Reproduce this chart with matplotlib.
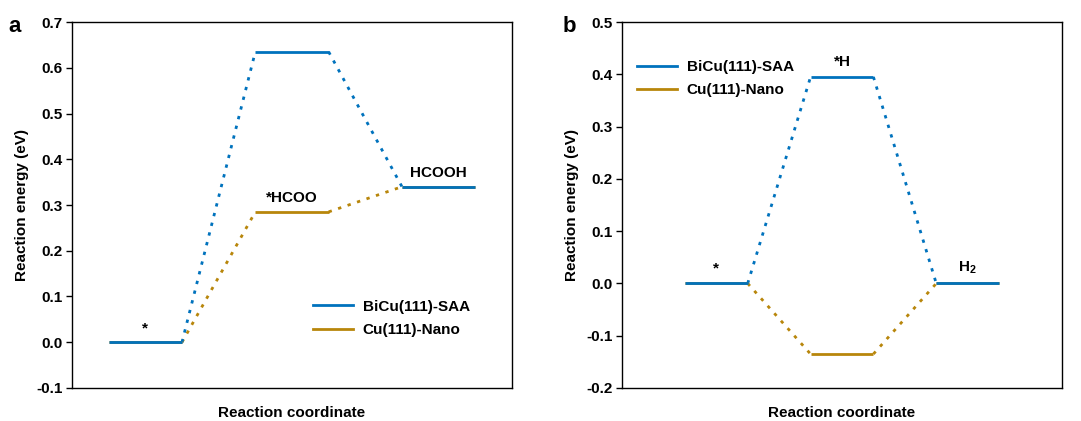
import matplotlib
matplotlib.use("Agg")
import matplotlib.pyplot as plt
from matplotlib.lines import Line2D

plt.rcParams['font.family'] = ['Liberation Sans', 'DejaVu Sans']
plt.rcParams['font.weight'] = 'bold'
plt.rcParams['mathtext.fontset'] = 'custom'
plt.rcParams['mathtext.rm'] = 'Liberation Sans:bold'
plt.rcParams['mathtext.bf'] = 'Liberation Sans:bold'
plt.rcParams['mathtext.it'] = 'Liberation Sans:bold'

FS = 11

# Energy profiles (eV) for each reaction step
series_names = ["BiCu(111)-SAA", "Cu(111)-Nano"]
colors = ["#0072BD", "#B8860B"]

co2rr_steps = ["*", "*HCOO", "HCOOH"]
co2rr_saa = [0.0, 0.635, 0.34]
co2rr_nano = [0.0, 0.285, 0.34]

her_steps = ["*", "*H", r"H$_\mathbf{2}$"]
her_saa = [0.0, 0.395, 0.0]
her_nano = [0.0, -0.135, 0.0]


def draw_profile(ax, values, color):
    # each state is a horizontal level of unit width, separated by unit gaps
    for i, v in enumerate(values):
        ax.plot([2 * i, 2 * i + 1], [v, v], color=color, lw=2, solid_capstyle='butt', zorder=3)
    for i in range(len(values) - 1):
        ax.plot([2 * i + 1, 2 * i + 2], [values[i], values[i + 1]], color=color, lw=2,
                linestyle=(0, (1.2, 2.4)), zorder=2)


def label_level(ax, x, y, s):
    ax.text(x, y, s, ha='center', va='bottom', fontsize=FS, fontweight='bold',
            transform=ax.transData)


def style_axes(ax, ylim, yticks):
    ax.set_ylim(*ylim)
    ax.set_yticks(yticks)
    ax.set_yticklabels([f"{t:.1f}" for t in yticks], fontsize=FS, fontweight='bold')
    ax.set_xticks([])
    ax.tick_params(axis='y', direction='out', length=4, width=1, pad=3)
    for s in ax.spines.values():
        s.set_linewidth(1)
    ax.set_xlabel("Reaction coordinate", fontsize=FS, fontweight='bold', labelpad=13)
    ax.set_ylabel("Reaction energy (eV)", fontsize=FS, fontweight='bold', labelpad=5)


fig = plt.figure(figsize=(10.81, 4.21), dpi=100)
ax1 = fig.add_axes([0.0666, 0.0784, 0.4070, 0.8693])
ax2 = fig.add_axes([0.5754, 0.0784, 0.4070, 0.8693])
handles = [Line2D([0], [0], color=c, lw=2) for c in colors]
legend_kw = dict(loc='upper left', frameon=False, fontsize=FS, handlelength=2.6,
                 handletextpad=0.65, labelspacing=0.6, borderpad=0, borderaxespad=0)

# Panel a: CO2 reduction to HCOOH
draw_profile(ax1, co2rr_nano, colors[1])
draw_profile(ax1, co2rr_saa, colors[0])
ax1.set_xlim(-0.5, 5.5)
style_axes(ax1, (-0.1, 0.7), [-0.1, 0.0, 0.1, 0.2, 0.3, 0.4, 0.5, 0.6, 0.7])
label_level(ax1, 0.5, co2rr_saa[0] + 0.015, co2rr_steps[0])
label_level(ax1, 2.5, co2rr_nano[1] + 0.015, co2rr_steps[1])
label_level(ax1, 4.5, co2rr_saa[2] + 0.015, co2rr_steps[2])
ax1.legend(handles, series_names, bbox_to_anchor=(0.548, 0.241), **legend_kw)
fig.text(0.008, 0.925, "a", fontsize=16, fontweight='bold')

# Panel b: hydrogen evolution
draw_profile(ax2, her_nano, colors[1])
draw_profile(ax2, her_saa, colors[0])
ax2.set_xlim(-1.0, 6.0)
style_axes(ax2, (-0.2, 0.5), [-0.2, -0.1, 0.0, 0.1, 0.2, 0.3, 0.4, 0.5])
label_level(ax2, 0.5, her_saa[0] + 0.015, her_steps[0])
label_level(ax2, 2.5, her_saa[1] + 0.015, her_steps[1])
label_level(ax2, 4.5, her_saa[2] + 0.015, her_steps[2])
ax2.legend(handles, series_names, bbox_to_anchor=(0.034, 0.896), **legend_kw)
fig.text(0.520, 0.925, "b", fontsize=16, fontweight='bold')

fig.savefig("out.png", dpi=100)
